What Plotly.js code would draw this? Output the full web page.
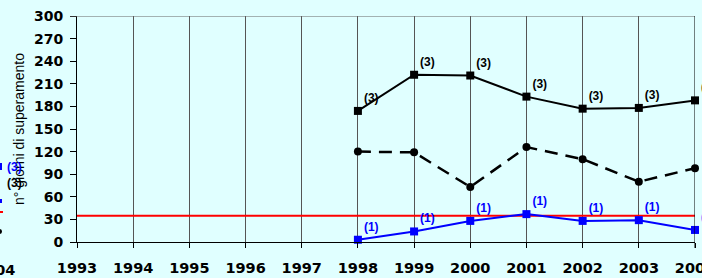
<!DOCTYPE html>
<html>
<head>
<meta charset="utf-8">
<script src="https://cdn.plot.ly/plotly-3.0.1.min.js"></script>
<style>html,body{margin:0;padding:0;background:#E0FFFF;}#chart{width:702px;height:278px;}</style>
</head>
<body>
<div id="chart"></div>
<script>
// Data
const years = [1998, 1999, 2000, 2001, 2002, 2003, 2004];
const seriesSolid = [174, 222, 221, 193, 177, 178, 188];   // black squares, solid line
const seriesDashed = [120, 119, 73, 126, 110, 80, 98];     // black circles, dashed line
const seriesBlue = [3, 14, 28, 37, 28, 29, 16];            // blue squares
const limitYears = [1993, 2004];
const limitValues = [35, 35];                              // red limit line
const labelSolid = ["(3)", "(3)", "(3)", "(3)", "(3)", "(3)", "(3)"];
const labelBlue = ["(1)", "(1)", "(1)", "(1)", "(1)", "(1)", "(1)"];
const xTickYears = [1993,1994,1995,1996,1997,1998,1999,2000,2001,2002,2003,2004];
const yTicks = [0,30,60,90,120,150,180,210,240,270,300];

const W = 702, H = 278, L = 77, R = 7, T = 16, B = 36;
const pw = W - L - R, ph = H - T - B;
const px = x => (x - L) / pw;
const py = y => (H - B - y) / ph;

const tickFont = {family: "DejaVu Sans, Arial, sans-serif", size: 14, color: "#000", weight: "bold"};
const lblFont = {family: "Liberation Sans, Arial, sans-serif", size: 12, weight: "bold"};

const traces = [
  {x: limitYears, y: limitValues, mode: "lines", line: {color: "#FF0000", width: 2}, hoverinfo: "skip", cliponaxis: false},
  {x: years, y: seriesDashed, mode: "lines+markers", line: {color: "#000", width: 2.5, dash: "13px,8px"},
   marker: {symbol: "circle", size: 8, color: "#000"}, cliponaxis: false},
  {x: years, y: seriesSolid, mode: "lines+markers+text", text: labelSolid, textposition: "top right",
   textfont: Object.assign({color: "#000"}, lblFont),
   line: {color: "#000", width: 2}, marker: {symbol: "square", size: 8, color: "#000"}, cliponaxis: false},
  {x: years, y: seriesBlue, mode: "lines+markers+text", text: labelBlue, textposition: "top right",
   textfont: Object.assign({color: "#0000FF"}, lblFont),
   line: {color: "#0000FF", width: 2}, marker: {symbol: "square", size: 8, color: "#0000FF"}, cliponaxis: false}
];

const layout = {
  width: W, height: H,
  margin: {l: L, r: R, t: T, b: B, pad: 0},
  paper_bgcolor: "#E0FFFF", plot_bgcolor: "#E0FFFF",
  showlegend: false,
  xaxis: {
    range: [1993, 2004], tickmode: "array", tickvals: xTickYears, ticktext: xTickYears.map(String),
    showline: true, linecolor: "#000", linewidth: 1,
    ticks: "outside", ticklen: 5, tickcolor: "#000", ticklabelstandoff: 8, ticklabeloverflow: "allow",
    showgrid: true, gridcolor: "#555", gridwidth: 1, zeroline: false,
    tickfont: Object.assign({}, tickFont, {size: 14.5}), fixedrange: true
  },
  yaxis: {
    range: [0, 300], tickmode: "array", tickvals: yTicks,
    showline: true, linecolor: "#000", linewidth: 1,
    ticks: "outside", ticklen: 6, tickcolor: "#000", ticklabelstandoff: 4, ticklabeloverflow: "allow",
    showgrid: false, zeroline: false, tickfont: tickFont, fixedrange: true,
    title: {text: "n° giorni di superamento", font: {family: "Liberation Sans, Arial, sans-serif", size: 14, color: "#000"}, standoff: 6}
  },
  shapes: [
    {type: "line", xref: "paper", yref: "y", x0: px(70), x1: 1, y0: 300, y1: 300, line: {color: "#666", width: 1}},
    {type: "line", xref: "x", yref: "paper", x0: 2004, x1: 2004, y0: py(248), y1: 1, line: {color: "#000", width: 1}},
    // fragments of the neighbouring chart's legend
    {type: "rect", xref: "paper", yref: "paper", x0: px(-5), x1: px(2), y0: py(170), y1: py(163), fillcolor: "#0000FF", line: {width: 0}},
    {type: "rect", xref: "paper", yref: "paper", x0: px(-3), x1: px(2), y0: py(203), y1: py(199), fillcolor: "#0000FF", line: {width: 0}},
    {type: "line", xref: "paper", yref: "paper", x0: px(-5), x1: px(3), y0: py(212), y1: py(212), line: {color: "#FF0000", width: 2}},
    {type: "circle", xref: "paper", yref: "paper", x0: px(-3), x1: px(2), y0: py(234), y1: py(229), fillcolor: "#000", line: {width: 0}}
  ],
  annotations: [
    {xref: "paper", yref: "paper", x: px(5), y: py(167), xanchor: "left", yanchor: "middle", showarrow: false,
     text: "(3)", font: Object.assign({}, lblFont, {color: "#0000FF"})},
    {xref: "paper", yref: "paper", x: px(5), y: py(183), xanchor: "left", yanchor: "middle", showarrow: false,
     text: "(3)", font: Object.assign({}, lblFont, {color: "#000"})},
    {xref: "paper", yref: "paper", x: px(17), y: py(270), xanchor: "right", yanchor: "middle", showarrow: false,
     text: "2004", font: Object.assign({}, tickFont, {size: 14.5})}
  ]
};

Plotly.newPlot("chart", traces, layout, {displayModeBar: false, staticPlot: true});
</script>
</body>
</html>
